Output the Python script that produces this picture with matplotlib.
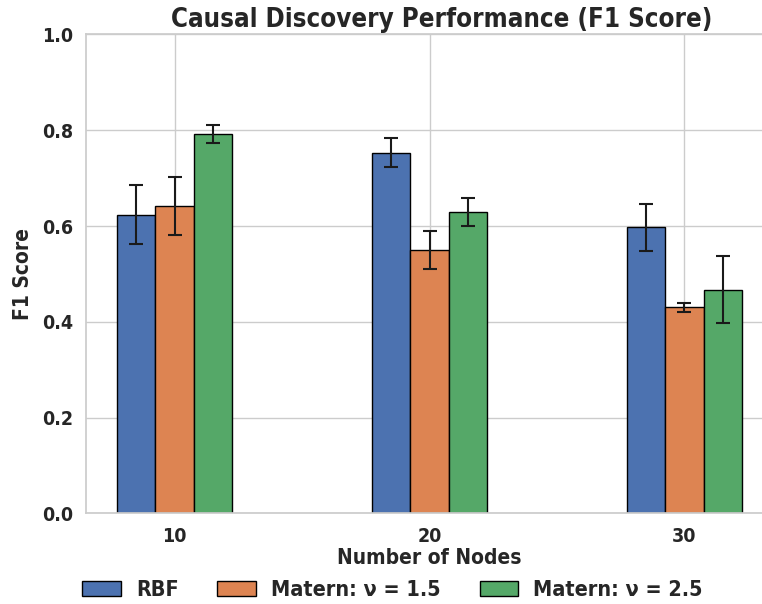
import matplotlib
matplotlib.use("Agg")
import matplotlib.pyplot as plt
import numpy as np
import seaborn as sns

sns.set_theme(style="whitegrid")
plt.rcParams['font.family'] = ['DejaVu Sans']
plt.rcParams['font.weight'] = 'bold'
plt.rcParams['font.stretch'] = 'condensed'

nodes = [10, 20, 30]
kernels = ["RBF", "Matern: \u03bd = 1.5", "Matern: \u03bd = 2.5"]
f1_mean = {
    "RBF": [0.624, 0.753, 0.597],
    "Matern: \u03bd = 1.5": [0.642, 0.550, 0.430],
    "Matern: \u03bd = 2.5": [0.792, 0.629, 0.467],
}
f1_std = {
    "RBF": [0.061, 0.030, 0.049],
    "Matern: \u03bd = 1.5": [0.061, 0.039, 0.010],
    "Matern: \u03bd = 2.5": [0.019, 0.030, 0.070],
}
colors = ["#4C72B0", "#DD8452", "#55A868"]

fig = plt.figure(figsize=(7.62, 6.04), dpi=100)
ax = fig.add_axes([0.1129, 0.150, 0.9016, 0.793])

width = 1.5
x = np.array(nodes, dtype=float)
for i, k in enumerate(kernels):
    ax.bar(x + (i - 1) * width, f1_mean[k], width, yerr=f1_std[k],
           color=colors[i], edgecolor="black", linewidth=1.0, label=k,
           capsize=5, error_kw=dict(ecolor="#1a1a1a", elinewidth=1.5, capthick=1.5))

ax.set_ylim(0, 1.0)
ax.spines["right"].set_visible(False)
ax.set_xticks(nodes)
ax.set_xticklabels([str(n) for n in nodes])
ax.tick_params(axis="both", labelsize=14)
for lbl in ax.get_xticklabels() + ax.get_yticklabels():
    lbl.set_fontweight("bold")
ax.set_xlabel("Number of Nodes", fontsize=15, fontweight="bold", labelpad=2)
ax.set_ylabel("F1 Score", fontsize=15, fontweight="bold", labelpad=6)
ax.set_title("Causal Discovery Performance (F1 Score)", fontsize=18.5,
             fontweight="bold", pad=5, x=0.518)

leg = ax.legend(loc="upper center", bbox_to_anchor=(0.446, -0.098), ncol=3,
                frameon=False, fontsize=15.5, handlelength=1.8, columnspacing=1.8,
                handletextpad=0.7)
for t in leg.get_texts():
    t.set_fontweight("bold")

fig.savefig("out.png", dpi=100)
